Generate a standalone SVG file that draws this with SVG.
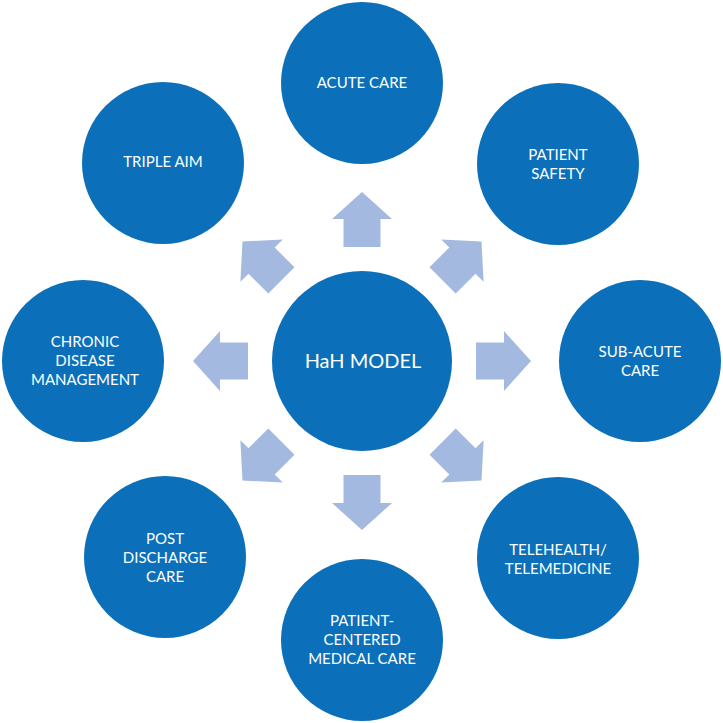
<svg xmlns="http://www.w3.org/2000/svg" width="723" height="723" viewBox="0 0 723 723">
<style>
.c{fill:#0B70B9}
.t{fill:#ffffff;font-family:Lato,"Liberation Sans",sans-serif;font-size:15px;text-anchor:middle}
.big{font-size:20px}
.a{fill:#A3B9E0}
</style>
<defs>
<path id="arr" d="M114,-18.5 L142,-18.5 L142,-30 L169,0 L142,30 L142,18.5 L114,18.5 Z"/>
</defs>
<rect width="723" height="723" fill="#ffffff"/>
<g id="connectors" class="a" transform="translate(362,361)">
<use href="#arr" transform="rotate(-90)"/>
<use href="#arr" transform="rotate(-45)"/>
<use href="#arr" transform="rotate(0)"/>
<use href="#arr" transform="rotate(45)"/>
<use href="#arr" transform="rotate(90)"/>
<use href="#arr" transform="rotate(135)"/>
<use href="#arr" transform="rotate(180)"/>
<use href="#arr" transform="rotate(225)"/>
</g>
<g id="hah-model"><circle class="c" cx="362" cy="361" r="90"/><text class="t big" x="363" y="368">HaH MODEL</text></g>
<g id="acute-care"><circle class="c" cx="362" cy="83" r="81"/><text class="t" x="362" y="88">ACUTE CARE</text></g>
<g id="patient-safety"><circle class="c" cx="558" cy="164" r="81"/><text class="t" x="558" y="160">PATIENT</text><text class="t" x="558" y="179">SAFETY</text></g>
<g id="sub-acute-care"><circle class="c" cx="640" cy="361" r="81"/><text class="t" x="640" y="357">SUB-ACUTE</text><text class="t" x="640" y="376">CARE</text></g>
<g id="telehealth"><circle class="c" cx="558" cy="558" r="81"/><text class="t" x="558" y="555">TELEHEALTH/</text><text class="t" x="558" y="574">TELEMEDICINE</text></g>
<g id="patient-centered"><circle class="c" cx="362" cy="640" r="81"/><text class="t" x="362" y="626">PATIENT-</text><text class="t" x="362" y="645">CENTERED</text><text class="t" x="362" y="664">MEDICAL CARE</text></g>
<g id="post-discharge"><circle class="c" cx="165" cy="557" r="81"/><text class="t" x="165" y="544">POST</text><text class="t" x="165" y="563">DISCHARGE</text><text class="t" x="165" y="582">CARE</text></g>
<g id="chronic-disease"><circle class="c" cx="83" cy="361" r="81"/><text class="t" x="85" y="347">CHRONIC</text><text class="t" x="85" y="366">DISEASE</text><text class="t" x="85" y="385">MANAGEMENT</text></g>
<g id="triple-aim"><circle class="c" cx="163" cy="163" r="81"/><text class="t" x="163" y="167">TRIPLE AIM</text></g>
</svg>
